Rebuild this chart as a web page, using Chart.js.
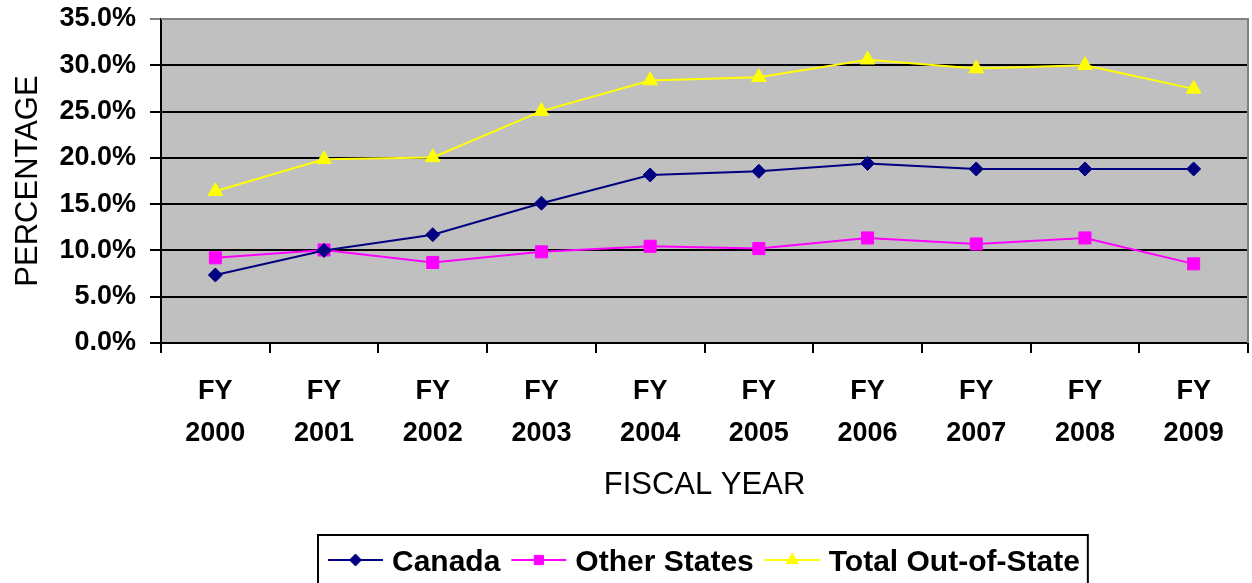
<!DOCTYPE html>
<html>
<head>
<meta charset="utf-8">
<script src="https://cdn.jsdelivr.net/npm/chart.js@4.4.1/dist/chart.umd.min.js"></script>
<style>
html,body{margin:0;padding:0;background:#fff;}
#wrap{width:1252px;height:583px;position:relative;overflow:hidden;}
</style>
</head>
<body>
<div id="wrap"><canvas id="c" width="1252" height="583"></canvas></div>
<script>
const categories = [['FY','2000'],['FY','2001'],['FY','2002'],['FY','2003'],['FY','2004'],['FY','2005'],['FY','2006'],['FY','2007'],['FY','2008'],['FY','2009']];
const canada = [7.35, 10.0, 11.7, 15.1, 18.15, 18.55, 19.4, 18.8, 18.8, 18.8];
const otherStates = [9.2, 10.05, 8.7, 9.85, 10.45, 10.2, 11.35, 10.7, 11.35, 8.55];
const totalOutOfState = [16.4, 19.85, 20.05, 25.05, 28.35, 28.7, 30.6, 29.65, 30.0, 27.45];
const yTicks = {min: 0, max: 35, step: 5};
const seriesNames = ['Canada', 'Other States', 'Total Out-of-State'];

const FONT = '"Liberation Sans", Arial, Helvetica, sans-serif';

const bgPlugin = {
  id: 'plotBg',
  beforeDraw(chart) {
    const {ctx, chartArea: a} = chart;
    ctx.save();
    ctx.fillStyle = '#C0C0C0';
    ctx.fillRect(a.left, a.top, a.right - a.left, a.bottom - a.top);
    ctx.restore();
  },
  afterDatasetsDraw(chart) {
    const {ctx, chartArea: a} = chart;
    ctx.save();
    ctx.strokeStyle = '#808080';
    ctx.lineWidth = 2;
    ctx.beginPath();
    ctx.moveTo(a.left, a.top);
    ctx.lineTo(a.right, a.top);
    ctx.lineTo(a.right, a.bottom);
    ctx.stroke();
    ctx.restore();
  }
};

const legendPlugin = {
  id: 'boxLegend',
  afterDraw(chart) {
    const ctx = chart.ctx;
    ctx.save();
    ctx.font = 'bold 30px ' + FONT;
    const lineLen = 55, gapText = 9, gapItem = 11, padL = 10, padR = 8;
    const items = chart.data.datasets.map(ds => ({ds, w: ctx.measureText(ds.label).width}));
    let total = padL + padR;
    items.forEach((it, i) => { total += lineLen + gapText + it.w + (i < items.length - 1 ? gapItem : 0); });
    const bx = 318;
    const by = 535;
    ctx.strokeStyle = '#000';
    ctx.lineWidth = 2;
    ctx.strokeRect(bx, by, total, 70);
    let x = bx + padL;
    const ly = 560;
    items.forEach((it, i) => {
      const ds = it.ds;
      ctx.strokeStyle = ds.borderColor;
      ctx.lineWidth = 2;
      ctx.beginPath();
      ctx.moveTo(x, ly);
      ctx.lineTo(x + lineLen, ly);
      ctx.stroke();
      ctx.fillStyle = ds.pointBackgroundColor;
      ctx.strokeStyle = ds.pointBorderColor;
      ctx.lineWidth = 1;
      const r = ds.pointStyle === 'rect' ? 6.5 : (ds.pointStyle === 'triangle' ? 7 : 6);
      Chart.helpers.drawPoint(ctx, {pointStyle: ds.pointStyle, rotation: 0, borderWidth: 1, radius: r}, x + lineLen / 2, ly);
      x += lineLen + gapText;
      ctx.fillStyle = '#000';
      ctx.textBaseline = 'alphabetic';
      ctx.textAlign = 'left';
      ctx.fillText(ds.label, x, 571);
      x += it.w + gapItem;
    });
    ctx.restore();
  }
};

new Chart(document.getElementById('c'), {
  type: 'line',
  data: {
    labels: categories,
    datasets: [
      {label: seriesNames[0], data: canada, borderColor: '#000080', backgroundColor: '#000080',
       pointBackgroundColor: '#000080', pointBorderColor: '#000080', pointStyle: 'rectRot', pointRadius: 7, borderWidth: 2, pointBorderWidth: 1},
      {label: seriesNames[1], data: otherStates, borderColor: '#FF00FF', backgroundColor: '#FF00FF',
       pointBackgroundColor: '#FF00FF', pointBorderColor: '#FF00FF', pointStyle: 'rect', pointRadius: 8.5, borderWidth: 2, pointBorderWidth: 1},
      {label: seriesNames[2], data: totalOutOfState, borderColor: '#FFFF00', backgroundColor: '#FFFF00',
       pointBackgroundColor: '#FFFF00', pointBorderColor: '#FFFF00', pointStyle: 'triangle', pointRadius: 8.5, borderWidth: 2, pointBorderWidth: 1}
    ]
  },
  options: {
    responsive: false,
    animation: false,
    devicePixelRatio: 1,
    layout: {autoPadding: false, padding: {top: 19, right: 4, left: 0, bottom: 80}},
    plugins: {legend: {display: false}, tooltip: {enabled: false}},
    elements: {line: {tension: 0}},
    scales: {
      x: {
        offset: true,
        afterFit(s) { s.height = 160; s.paddingLeft = 0; s.paddingRight = 0; },
        grid: {display: true, drawOnChartArea: false, drawTicks: true, tickLength: 10, color: '#000', lineWidth: 2, offset: true},
        border: {display: true, color: '#000', width: 2},
        ticks: {color: '#000', font: {family: FONT, size: 27, weight: 'bold', lineHeight: 1.56}, padding: 17, maxRotation: 0, autoSkip: false},
        title: {display: true, text: 'FISCAL YEAR', color: '#000', font: {family: FONT, size: 31, weight: 'normal', lineHeight: 1.1}, padding: {top: 0, bottom: 0}}
      },
      y: {
        min: yTicks.min, max: yTicks.max,
        afterFit(s) { s.width = 161; s.paddingTop = 0; s.paddingBottom = 0; },
        grid: {color: ctx => (ctx.tick && ctx.tick.value === yTicks.max) ? '#808080' : '#000', lineWidth: 2, tickLength: 11, drawTicks: true},
        border: {display: true, color: '#000', width: 2},
        ticks: {stepSize: yTicks.step, color: '#000', padding: 14, font: {family: FONT, size: 27, weight: 'bold'},
                callback: v => Number(v).toFixed(1) + '%'},
        title: {display: true, text: 'PERCENTAGE', color: '#000', font: {family: FONT, size: 31, weight: 'normal', lineHeight: 1.2}, padding: {top: 10, bottom: 0}}
      }
    }
  },
  plugins: [bgPlugin, legendPlugin]
});
</script>
</body>
</html>
